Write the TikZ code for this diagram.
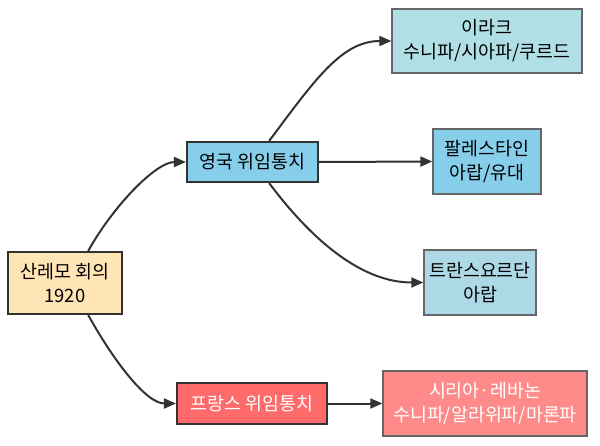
\documentclass[tikz,border=0pt]{standalone}
\usepackage{fontspec}
\usepackage{tikz}
\usetikzlibrary{
	arrows.meta,
	calc,
	positioning
}
\setmainfont{Noto Sans CJK KR}
\definecolor{EdgeGray}{RGB}{51,51,51}
\definecolor{LeafGray}{RGB}{102,102,102}
\definecolor{RootFill}{RGB}{255,228,181}
\definecolor{SkyFill}{RGB}{135,206,235}
\definecolor{PowderFill}{RGB}{176,224,230}
\definecolor{LightFill}{RGB}{173,216,230}
\definecolor{FraFill}{RGB}{255,107,107}
\definecolor{SyrFill}{RGB}{255,138,138}

\begin{document}
\begin{tikzpicture}[x=0.75pt, y=-0.75pt,
		font=\fontsize{13.8}{18}\selectfont,
		mandate/.style={draw=EdgeGray, line width=1.6pt, align=center, inner sep=0pt},
		region/.style={draw=LeafGray, line width=1pt, align=center, inner sep=0pt},
		link/.style={draw=EdgeGray, line width=1.5pt, -{Triangle[length=9pt,width=7.5pt]}}]
		\useasboundingbox (0,0) rectangle (600,446);
		\node[mandate, fill=RootFill, minimum width=114*0.75pt, minimum height=62*0.75pt] (root) at (65,283) {산레모 회의\\1920};
		\node[mandate, fill=SkyFill, minimum width=131*0.75pt, minimum height=40*0.75pt] (brit) at (252.5,162) {영국 위임통치};
		\node[mandate, fill=FraFill, text=white, minimum width=150*0.75pt, minimum height=41*0.75pt] (fra) at (252,403.5) {프랑스 위임통치};
		\node[region, fill=PowderFill, minimum width=190*0.75pt, minimum height=64*0.75pt] (iraq) at (487,41) {이라크\\수니파/시아파/쿠르드};
		\node[region, fill=SkyFill, minimum width=108*0.75pt, minimum height=65*0.75pt] (pal) at (487,161.5) {팔레스타인\\아랍/유대};
		\node[region, fill=LightFill, minimum width=112*0.75pt, minimum height=65*0.75pt] (trans) at (480,282.5) {트란스요르단\\아랍};
		\node[region, fill=SyrFill, text=white, minimum width=204*0.75pt, minimum height=65*0.75pt] (syr) at (485,403.5) {시리아·레바논\\수니파/알라위파/마론파};
		\coordinate (rootN) at ($(root.north)!0.4!(root.north east)$);
		\coordinate (rootS) at ($(root.south)!0.4!(root.south east)$);
		\coordinate (britN) at ($(brit.north)!0.25!(brit.north east)$);
		\coordinate (britS) at ($(brit.south)!0.25!(brit.south east)$);
		\draw[link] (rootN) .. controls +(25,-45) and +(-30,0) .. (brit.west);
		\draw[link] (rootS) .. controls +(25,45) and +(-30,0) .. (fra.west);
		\draw[link] (britN) .. controls +(45,-60) and +(-50,0) .. (iraq.west);
		\draw[link] (brit.east) -- (pal.west);
		\draw[link] (britS) .. controls +(45,60) and +(-60,0) .. (trans.west);
		\draw[link] (fra.east) -- (syr.west);
	\end{tikzpicture}
\end{document}
